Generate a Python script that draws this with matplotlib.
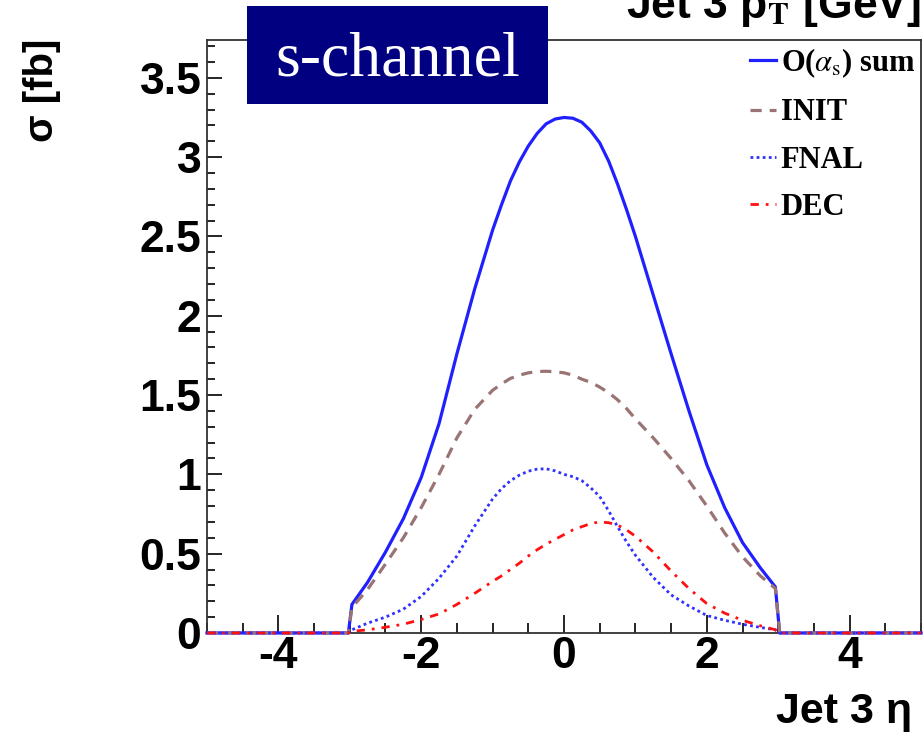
import matplotlib
matplotlib.use("Agg")
import matplotlib.pyplot as plt
from matplotlib.patches import Rectangle
from matplotlib.ticker import MultipleLocator

# Jet 3 eta grid and cross sections (fb)
eta = [-5, -3.02, -2.97, -2.75, -2.5, -2.25, -2.0, -1.75, -1.5, -1.25,
       -1.0, -0.875, -0.75, -0.625, -0.5, -0.375, -0.25, -0.125, 0,
       0.125, 0.25, 0.375, 0.5, 0.625, 0.75, 0.875, 1.0,
       1.25, 1.5, 1.75, 2.0, 2.25, 2.5, 2.75, 2.96, 3.02, 5]

sum_as = [0, 0, 0.18, 0.32, 0.51, 0.72, 0.98, 1.32, 1.76, 2.17,
          2.54, 2.70, 2.85, 2.97, 3.07, 3.15, 3.21, 3.24, 3.25,
          3.245, 3.22, 3.165, 3.09, 2.975, 2.83, 2.67, 2.50,
          2.13, 1.76, 1.40, 1.06, 0.79, 0.57, 0.41, 0.29, 0, 0]
init = [0, 0, 0.16, 0.275, 0.435, 0.60, 0.79, 1.00, 1.23, 1.41,
        1.53, 1.57, 1.605, 1.625, 1.64, 1.648, 1.65, 1.647, 1.64,
        1.625, 1.60, 1.58, 1.55, 1.515, 1.47, 1.415, 1.35,
        1.23, 1.10, 0.96, 0.80, 0.63, 0.48, 0.36, 0.28, 0, 0]
fnal = [0, 0, 0.02, 0.062, 0.10, 0.15, 0.23, 0.345, 0.485, 0.675,
        0.845, 0.91, 0.96, 0.995, 1.02, 1.033, 1.035, 1.022, 1.00,
        0.985, 0.96, 0.915, 0.86, 0.77, 0.67, 0.575, 0.49,
        0.35, 0.24, 0.17, 0.11, 0.08, 0.055, 0.035, 0.02, 0, 0]
dec = [0, 0, 0.01, 0.02, 0.036, 0.055, 0.085, 0.12, 0.18, 0.25,
       0.325, 0.36, 0.40, 0.44, 0.485, 0.525, 0.56, 0.59, 0.62,
       0.65, 0.67, 0.69, 0.70, 0.695, 0.68, 0.65, 0.61,
       0.51, 0.39, 0.28, 0.185, 0.125, 0.08, 0.045, 0.02, 0, 0]

labels = [r"O($\alpha_{\rm s}$) sum", "INIT", "FNAL", "DEC"]

plt.rcParams['mathtext.fontset'] = 'stix'

fig = plt.figure(figsize=(9.24, 7.36), dpi=100)
ax = fig.add_axes([0.224, 0.14, 0.7728, 0.806])

# curves (drawn over the frame so the zero parts show on the axis like in ROOT)
ax.plot(eta, sum_as, color='#2020ff', lw=2.3, label=labels[0], zorder=3, clip_on=False)
ax.plot(eta, init, color='#9a7474', lw=2.3, dashes=(3.5, 2.5), label=labels[1], zorder=3, clip_on=False)
ax.plot(eta, fnal, color='#3030ff', lw=2.0, dashes=(1, 1.2), label=labels[2], zorder=3, clip_on=False)
ax.plot(eta, dec, color='#ff1010', lw=2.0, dashes=(3, 2.5, 1, 2.5), label=labels[3], zorder=3, clip_on=False)

ax.set_xlim(-5, 5)
ax.set_ylim(0, 3.74)

# ROOT-like ticks, pointing inwards
ax.xaxis.set_major_locator(MultipleLocator(2))
ax.xaxis.set_minor_locator(MultipleLocator(0.5))
ax.yaxis.set_major_locator(MultipleLocator(0.5))
ax.yaxis.set_minor_locator(MultipleLocator(0.1))
ax.tick_params(axis='x', which='major', direction='in', length=13, width=1.2, pad=2)
ax.tick_params(axis='x', which='minor', direction='in', length=7, width=1.2)
ax.tick_params(axis='y', which='major', direction='in', length=11, width=1.2, pad=4)
ax.tick_params(axis='y', which='minor', direction='in', length=5.5, width=1.2)

ax.set_yticks([0, 0.5, 1, 1.5, 2, 2.5, 3, 3.5])
ax.set_yticklabels(['0', '0.5', '1', '1.5', '2', '2.5', '3', '3.5'])
ax.set_xticks([-4, -2, 0, 2, 4])
ax.set_xticklabels(['-4', '-2', '0', '2', '4'])
for t in ax.get_xticklabels() + ax.get_yticklabels():
    t.set_fontfamily('Liberation Sans')
    t.set_fontweight('bold')
    t.set_fontsize(32)

for s in ax.spines.values():
    s.set_linewidth(1.3)
    s.set_color('#333333')

# axis titles placed like ROOT
fig.text(0.045, 0.947, "σ [fb]", rotation=90, ha='center', va='top',
         fontsize=29, fontweight='bold', family='Liberation Sans')
fig.text(0.987, 0.032, "Jet 3 η", ha='right', va='center',
         fontsize=31, fontweight='bold', family='Liberation Sans')

# title of the neighbouring panel, cut by the top edge
fig.text(0.997, 1 - 18 / 736, r"Jet 3 p$_{\mathbf{T}}$ [GeV]", ha='right', va='baseline',
         fontsize=32, fontweight='bold', family='Liberation Sans')

leg = ax.legend(loc='upper right', bbox_to_anchor=(0.99, 0.937), bbox_transform=fig.transFigure,
                frameon=False, borderpad=0, borderaxespad=0, handlelength=0.85, handletextpad=0.15,
                labelspacing=0.6, prop={'family': 'Liberation Serif', 'weight': 'bold', 'size': 22})

# s-channel label box
fig.patches.append(Rectangle((247 / 924, 1 - 104 / 736), 301 / 924, 98 / 736,
                             transform=fig.transFigure, facecolor='#000080', edgecolor='none',
                             zorder=5))
fig.text(397.5 / 924, 1 - 76 / 736, "s-channel", ha='center', va='baseline', color='white',
         fontsize=46, family='Liberation Serif', zorder=6)

fig.savefig('out.png', dpi=100)
